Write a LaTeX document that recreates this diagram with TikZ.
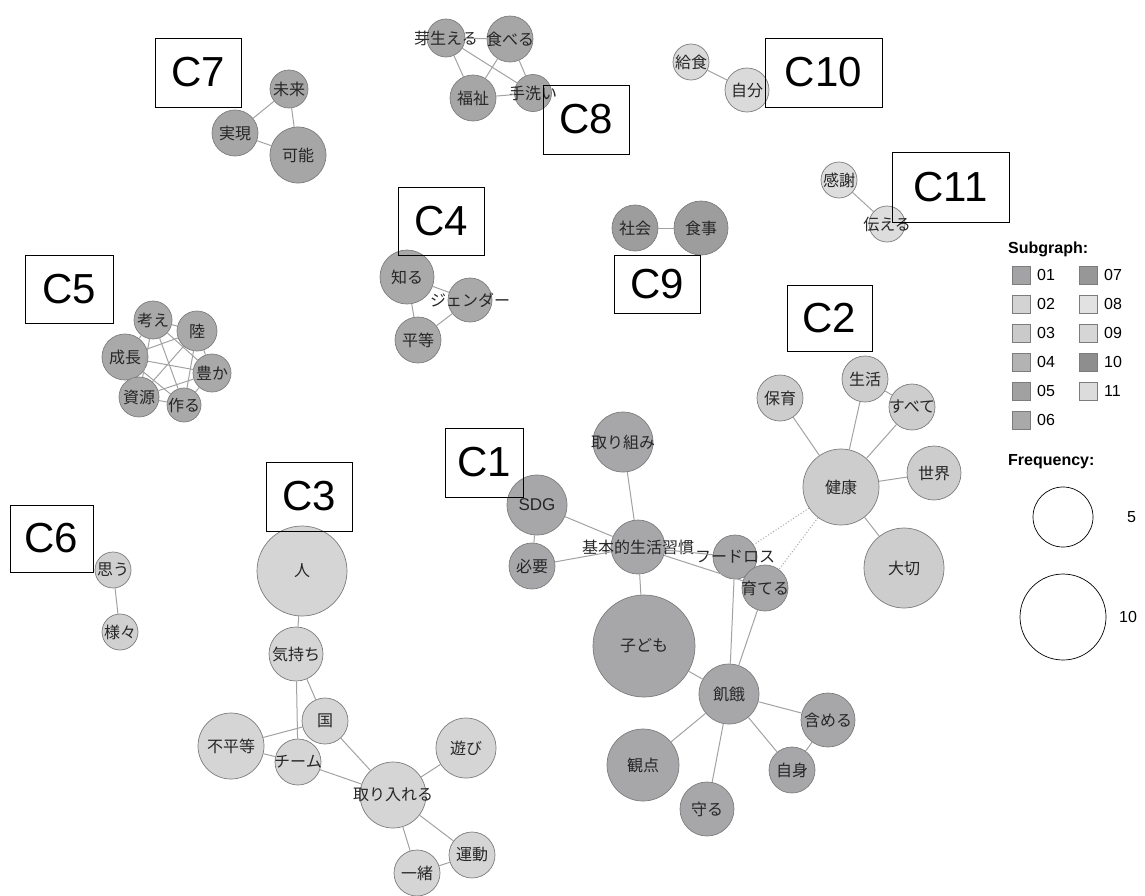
\documentclass[tikz,border=0pt]{standalone}
\usepackage{fontspec}
\setmainfont{Liberation Sans}
\newfontfamily\jpfont{Noto Sans CJK JP}

\definecolor{nodeline}{HTML}{7C7C7C}
\definecolor{edgegray}{HTML}{A2A2A2}
% cluster fills
\definecolor{fa}{HTML}{A7A7AA}
\definecolor{fb}{HTML}{CDCDCD}
\definecolor{fc}{HTML}{D5D5D5}
\definecolor{fd}{HTML}{A9A9A9}
\definecolor{fe}{HTML}{A9A9A9}
\definecolor{ff}{HTML}{D0D0D0}
\definecolor{fg}{HTML}{A6A6A6}
\definecolor{fh}{HTML}{A6A6A6}
\definecolor{fi}{HTML}{9D9D9D}
\definecolor{fj}{HTML}{DADADA}
\definecolor{fk}{HTML}{DDDDDD}
% legend swatches
\definecolor{s01}{HTML}{A3A3A6}
\definecolor{s02}{HTML}{D3D3D3}
\definecolor{s03}{HTML}{CACACA}
\definecolor{s04}{HTML}{B3B3B3}
\definecolor{s05}{HTML}{A1A1A1}
\definecolor{s06}{HTML}{A9A9A9}
\definecolor{s07}{HTML}{979797}
\definecolor{s08}{HTML}{E2E2E2}
\definecolor{s09}{HTML}{D6D6D6}
\definecolor{s10}{HTML}{8E8E8E}
\definecolor{s11}{HTML}{DCDCDC}

\tikzset{
  wnode/.style={circle,draw=nodeline,line width=0.7pt,inner sep=0pt},
  wlabel/.style={font=\jpfont\fontsize{16}{16}\selectfont,inner sep=0pt,text=black!85},
  link/.style={draw=edgegray,line width=1pt},
  weak/.style={draw=edgegray,line width=1pt,dotted},
  tag/.style={draw=black,line width=0.8pt,inner sep=0pt,
    font=\fontsize{42}{42}\selectfont},
  swatch/.style={draw=nodeline,line width=0.6pt,minimum size=18pt,inner sep=0pt},
  legtext/.style={font=\fontsize{16}{16}\selectfont,inner sep=0pt,anchor=west},
  legtitle/.style={font=\bfseries\fontsize{16}{16}\selectfont,inner sep=0pt,anchor=west},
}

% word node: name, x, y, radius, fill, label
\newcommand\wn[6]{%
  \node[wnode,fill=#5,minimum size={2*#4pt},label={[wlabel]center:#6}] (#1) at (#2,#3) {};}

\begin{document}
\begin{tikzpicture}[x=1pt,y=-1pt]
\useasboundingbox (0,0) rectangle (1145,895);

% ---- C1
\wn{tk}{623}{442}{30}{fa}{取り組み}
\wn{sdg}{537}{505}{30}{fa}{\rmfamily\fontsize{17}{17}\selectfont SDG}
\wn{hy}{532}{566}{23}{fa}{必要}
\wn{kh}{638}{547}{27}{fa}{基本的生活習慣}
\wn{fl}{735}{557}{22}{fa}{フードロス}
\wn{sd}{765}{588}{23}{fa}{育てる}
\wn{kd}{644}{646}{51}{fa}{子ども}
\wn{ki}{729}{694}{30}{fa}{飢餓}
\wn{fm}{828}{720}{27}{fa}{含める}
\wn{kt}{643}{765}{36}{fa}{観点}
\wn{mm}{707}{809}{27}{fa}{守る}
\wn{js}{792}{770}{23}{fa}{自身}

% ---- C2
\wn{kk}{841}{487}{38}{fb}{健康}
\wn{ho}{780}{398}{23}{fb}{保育}
\wn{sk}{865}{379}{23}{fb}{生活}
\wn{sb}{912}{407}{23}{fb}{すべて}
\wn{sw}{934}{473}{27}{fb}{世界}
\wn{tc}{904}{568}{40}{fb}{大切}

% ---- C3
\wn{hi}{302}{571}{45}{fc}{人}
\wn{km}{296}{654}{27}{fc}{気持ち}
\wn{ku}{325}{721}{23}{fc}{国}
\wn{fb}{231}{746}{33}{fc}{不平等}
\wn{tm}{298}{762}{23}{fc}{チーム}
\wn{as}{466}{748}{30}{fc}{遊び}
\wn{tr}{393}{795}{33}{fc}{取り入れる}
\wn{ud}{472}{855}{23}{fc}{運動}
\wn{is}{417}{873}{23}{fc}{一緒}

% ---- C4
\wn{sr}{407}{277}{27}{fd}{知る}
\wn{gd}{470}{300}{22}{fd}{ジェンダー}
\wn{bt}{418}{340}{23}{fd}{平等}

% ---- C5
\wn{kn}{153}{320}{19}{fe}{考え}
\wn{rk}{197}{331}{20}{fe}{陸}
\wn{sc}{125}{357}{23}{fe}{成長}
\wn{yk}{212}{373}{19}{fe}{豊か}
\wn{sg}{139}{397}{20}{fe}{資源}
\wn{tu}{184}{405}{17}{fe}{作る}

% ---- C6
\wn{om}{113}{570}{18}{ff}{思う}
\wn{sm}{120}{632}{18}{ff}{様々}

% ---- C7
\wn{mr}{289}{89}{19}{fg}{未来}
\wn{jg}{235}{133}{23}{fg}{実現}
\wn{kn2}{298}{155}{28}{fg}{可能}

% ---- C8
\wn{mb}{446}{38}{19}{fh}{芽生える}
\wn{tb}{510}{39}{23}{fh}{食べる}
\wn{fs}{473}{98}{23}{fh}{福祉}
\wn{ta}{533}{93}{18.5}{fh}{手洗い}

% ---- C9
\wn{sy}{635}{228}{23}{fi}{社会}
\wn{sj}{701}{228}{27}{fi}{食事}

% ---- C10
\wn{ks}{691}{62}{18}{fj}{給食}
\wn{jb}{747}{90}{22}{fj}{自分}

% ---- C11
\wn{ksh}{839}{180}{18}{fk}{感謝}
\wn{tt}{887}{224}{18}{fk}{伝える}

% ---- connectors
\draw[link] (tk) -- (kh);
\draw[link] (sdg) -- (kh);
\draw[link] (sdg) -- (hy);
\draw[link] (hy) -- (kh);
\draw[link] (kh) -- (fl);
\draw[link] (kh) -- (sd);
\draw[link] (kh) -- (kd);
\draw[link] (fl) -- (ki);
\draw[link] (sd) -- (ki);
\draw[link] (kd) -- (ki);
\draw[link] (ki) -- (fm);
\draw[link] (ki) -- (kt);
\draw[link] (ki) -- (mm);
\draw[link] (ki) -- (js);
\draw[link] (fm) -- (js);
\draw[weak] (kk) -- (fl);
\draw[weak] (kk) -- (sd);

\draw[link] (kk) -- (ho);
\draw[link] (kk) -- (sk);
\draw[link] (kk) -- (sb);
\draw[link] (sk) -- (sb);
\draw[link] (kk) -- (sw);
\draw[link] (kk) -- (tc);

\draw[link] (hi) -- (km);
\draw[link] (km) -- (ku);
\draw[link] (km) -- (tm);
\draw[link] (fb) -- (ku);
\draw[link] (fb) -- (tm);
\draw[link] (tm) -- (tr);
\draw[link] (ku) -- (tr);
\draw[link] (tr) -- (as);
\draw[link] (tr) -- (ud);
\draw[link] (tr) -- (is);
\draw[link] (is) -- (ud);

\draw[link] (sr) -- (gd);
\draw[link] (sr) -- (bt);
\draw[link] (bt) -- (gd);

\foreach \a/\b in {kn/rk,kn/sc,kn/yk,kn/sg,kn/tu,rk/sc,rk/yk,rk/sg,rk/tu,sc/yk,sc/sg,sc/tu,yk/sg,yk/tu,sg/tu}
  \draw[link] (\a) -- (\b);

\draw[link] (om) -- (sm);

\draw[link] (mr) -- (jg);
\draw[link] (mr) -- (kn2);
\draw[link] (jg) -- (kn2);

\foreach \a/\b in {mb/tb,mb/fs,mb/ta,tb/fs,tb/ta,fs/ta}
  \draw[link] (\a) -- (\b);

\draw[link] (sy) -- (sj);
\draw[link] (ks) -- (jb);
\draw[link] (ksh) -- (tt);

% ---- cluster tags
\node[tag,minimum width=78pt,minimum height=69pt] (c1) at (484,462.5) {C1};
\node[tag,minimum width=85pt,minimum height=66pt] (c2) at (829.5,318) {C2};
\node[tag,minimum width=86pt,minimum height=69pt] (c3) at (309,496.5) {C3};
\node[tag,minimum width=86pt,minimum height=68pt] (c4) at (441,221) {C4};
\node[tag,minimum width=88pt,minimum height=68pt] (c5) at (69,289) {C5};
\node[tag,minimum width=83pt,minimum height=67pt] (c6) at (51.5,538.5) {C6};
\node[tag,minimum width=86pt,minimum height=69pt] (c7) at (198,72.5) {C7};
\node[tag,minimum width=86pt,minimum height=69pt] (c8) at (586,119.5) {C8};
\node[tag,minimum width=86pt,minimum height=58pt] (c9) at (657,284) {C9};
\node[tag,minimum width=117pt,minimum height=69pt] (c10) at (823.5,72.5) {C10};
\node[tag,minimum width=117pt,minimum height=70pt] (c11) at (950.5,187) {C11};

% ---- legend
\node[legtitle] (lsub) at (1008,249) {Subgraph:};
\foreach \n/\y in {01/275,02/304,03/333,04/362,05/391,06/420}{
  \node[swatch,fill=s\n] (sw\n) at (1021,\y) {};
  \node[legtext] (lt\n) at (1037,\y) {\n};
}
\foreach \n/\y in {07/275,08/304,09/333,10/362,11/391}{
  \node[swatch,fill=s\n] (sw\n) at (1088,\y) {};
  \node[legtext] (lt\n) at (1104,\y) {\n};
}
\node[legtitle] (lfreq) at (1008,462) {Frequency:};
\node[circle,draw=black,line width=0.7pt,minimum size=60pt,inner sep=0pt] (f5) at (1063,517) {};
\node[legtext] (l5) at (1127,517) {5};
\node[circle,draw=black,line width=0.7pt,minimum size=86pt,inner sep=0pt] (f10) at (1063,617) {};
\node[legtext] (l10) at (1119,617) {10};
\end{tikzpicture}
\end{document}
